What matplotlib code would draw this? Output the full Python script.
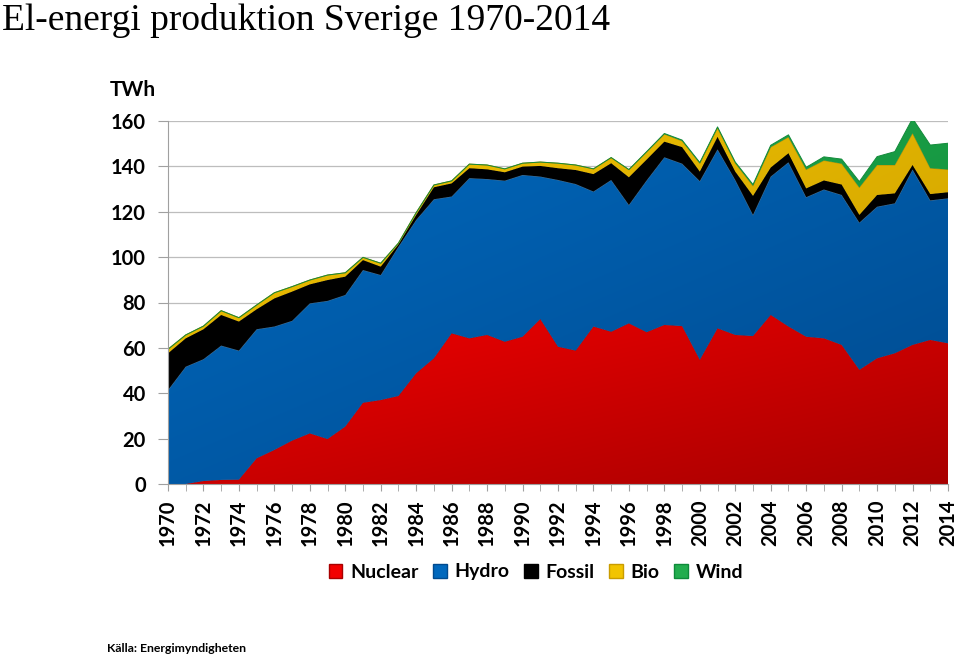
import numpy as np
import matplotlib
matplotlib.use("Agg")
import matplotlib.pyplot as plt
from matplotlib.patches import Patch

plt.rcParams['font.family'] = ['Lato', 'DejaVu Sans']

# data (TWh)
years = list(range(1970, 2015))
nuclear = [0, 0, 1.3, 1.8, 1.9, 11.3, 15.0, 19.1, 22.3, 19.8, 25.3, 35.8, 37.0, 38.8, 48.8,
           55.4, 66.4, 64.2, 65.7, 62.7, 64.9, 72.7, 60.5, 58.8, 69.4, 67.1, 70.8, 66.9, 70.1,
           69.6, 54.7, 68.6, 65.7, 65.2, 74.5, 69.4, 64.9, 64.2, 61.3, 50.3, 55.4, 57.6, 61.3,
           63.5, 62.0]
hydro = [41.4, 51.7, 53.7, 59.2, 56.9, 56.9, 54.4, 52.8, 57.3, 60.9, 58.0, 58.5, 55.1, 65.8,
         67.6, 70.1, 60.3, 70.6, 68.7, 71.0, 71.3, 62.8, 73.5, 73.4, 59.5, 66.9, 52.2, 66.9,
         73.9, 71.6, 78.8, 78.9, 68.3, 53.4, 61.0, 72.4, 61.5, 65.6, 66.1, 64.9, 66.8, 66.1,
         77.3, 61.5, 63.9]
fossil = [16.2, 12.5, 13.2, 13.5, 12.8, 8.8, 12.4, 12.9, 8.4, 9.2, 8.1, 4.4, 3.7, 1.0, 2.2,
          5.3, 5.8, 4.4, 4.3, 3.7, 3.7, 4.7, 5.2, 6.2, 7.7, 7.4, 12.2, 9.2, 6.9, 7.3, 4.2, 5.5,
          3.7, 8.4, 4.0, 4.0, 3.9, 4.0, 4.6, 3.4, 5.2, 4.4, 2.0, 2.8, 2.7]
bio = [1.8, 1.5, 1.4, 1.9, 1.7, 1.9, 2.5, 2.2, 1.9, 2.2, 1.7, 1.2, 1.5, 0.6, 1.0, 1.0, 1.1,
       1.8, 1.9, 1.5, 1.5, 1.7, 2.2, 2.2, 2.3, 2.4, 3.3, 3.3, 3.3, 2.7, 3.6, 3.9, 3.7, 4.4,
       9.0, 7.1, 8.3, 8.8, 9.2, 12.1, 13.2, 12.5, 14.0, 11.4, 10.0]
wind = [0, 0, 0, 0, 0, 0, 0, 0, 0, 0, 0, 0, 0, 0, 0, 0, 0, 0, 0, 0, 0, 0, 0, 0, 0, 0.1, 0.1,
        0.2, 0.3, 0.4, 0.4, 0.5, 0.5, 0.6, 0.8, 1.0, 1.0, 1.6, 2.0, 2.6, 3.7, 5.9, 6.5, 10.2,
        11.6]

series = [
    ("Nuclear", nuclear, "#f20000", "#a80000", "#c00000"),
    ("Hydro", hydro, "#0068bd", "#004a8e", "#3b6e98"),
    ("Fossil", fossil, "#000000", "#000000", "#000000"),
    ("Bio", bio, "#f2c400", "#c99c00", "#b89000"),
    ("Wind", wind, "#22ad4e", "#0e8a3a", "#138a3a"),
]


def grad_fill(ax, x, lo, hi, c1, c2, z):
    poly = ax.fill_between(x, lo, hi, facecolor='none', edgecolor='none', zorder=z)
    yy, xx = np.mgrid[0:1:200j, 0:1:200j]
    t = 0.5 * xx + 0.5 * (1 - yy)
    c1 = np.array(matplotlib.colors.to_rgb(c1))
    c2 = np.array(matplotlib.colors.to_rgb(c2))
    img = (1 - t)[..., None] * c1 + t[..., None] * c2
    im = ax.imshow(img, extent=[x[0], x[-1], 0, max(hi)], origin='lower',
                   aspect='auto', zorder=z, interpolation='bilinear')
    im.set_clip_path(poly.get_paths()[0], ax.transData)


fig = plt.figure(figsize=(9.6, 6.56), dpi=100)
ax = fig.add_axes([168 / 960, 1 - 484 / 656, 780 / 960, 363 / 656])

x = np.array(years, dtype=float)
base = np.zeros(len(years))
for i, (name, vals, c1, c2, edge) in enumerate(series):
    top = base + np.array(vals)
    grad_fill(ax, x, base, top, c1, c2, 2 + i)
    ax.plot(x, top, color=edge, lw=0.7, zorder=2.5 + i)
    base = top

ax.set_xlim(1970, 2014)
ax.set_ylim(0, 160)
ax.set_yticks(range(0, 161, 20))
ax.set_xticks(range(1970, 2015, 2))
ax.set_xticks(years, minor=True)
ax.set_xticklabels([str(y) for y in range(1970, 2015, 2)], rotation=90,
                   fontsize=14.5, fontweight='bold')
for lab in ax.get_yticklabels():
    lab.set_fontsize(14.5)
    lab.set_fontweight('bold')
ax.tick_params(axis='y', length=7, color='#a0a0a0', pad=9)
ax.tick_params(axis='x', which='both', length=5, color='#a0a0a0', pad=6)
ax.grid(axis='y', color='#bdbdbd', lw=0.9, zorder=1)
ax.set_axisbelow(True)
for s in ['top', 'right']:
    ax.spines[s].set_visible(False)
for s in ['left', 'bottom']:
    ax.spines[s].set_color('#a0a0a0')
    ax.spines[s].set_zorder(10)

handles = [Patch(facecolor=c1, edgecolor=c2, label=name) for name, _, c1, c2, _ in series]
fig.legend(handles=handles, loc='center', bbox_to_anchor=(536 / 960, 1 - 572 / 656),
           ncol=5, frameon=False, handlelength=0.7, handleheight=0.7,
           handletextpad=0.4, columnspacing=0.75,
           prop={'size': 14, 'weight': 'bold'})

fig.text(2 / 960, 1 - 20 / 656, "El-energi produktion Sverige 1970-2014",
         family='Liberation Serif', fontsize=27, va='center', ha='left')
fig.text(110 / 960, 1 - 90 / 656, "TWh", fontsize=15, fontweight='bold',
         va='center', ha='left')
fig.text(107 / 960, 1 - 648 / 656, "Källa: Energimyndigheten", fontsize=8.8,
         fontweight='bold', va='center', ha='left')

fig.savefig("out.png", dpi=100)
